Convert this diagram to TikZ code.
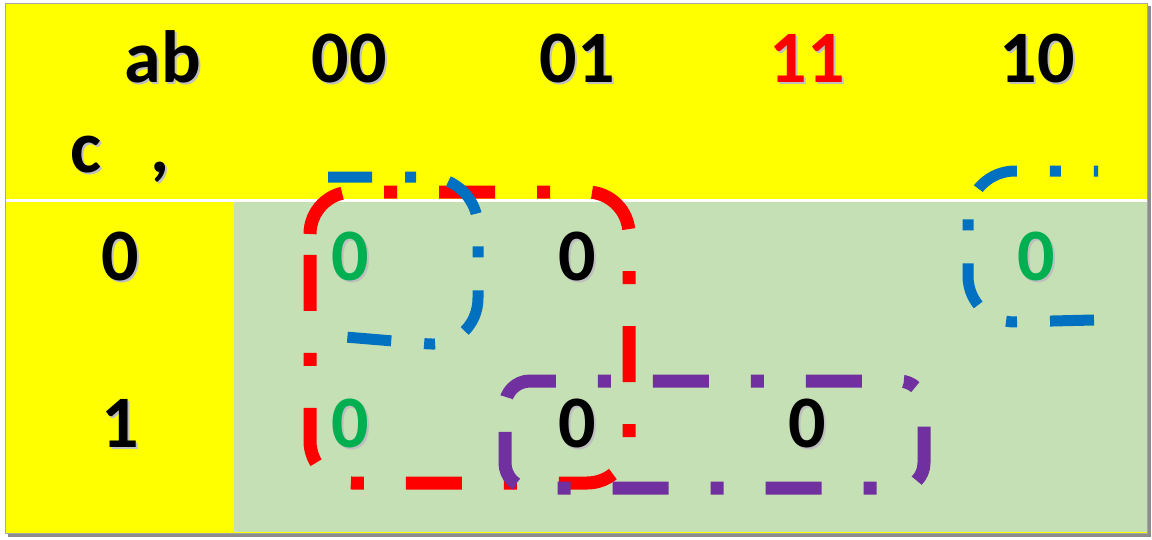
\documentclass[tikz,border=0pt]{standalone}
\usepackage{fontspec}
\setmainfont{Carlito}
\definecolor{kyellow}{HTML}{FFFF00}
\definecolor{kgreen}{HTML}{C5E0B4}
\definecolor{kred}{HTML}{FF0000}
\definecolor{kblue}{HTML}{0070C0}
\definecolor{kpurple}{HTML}{7030A0}
\definecolor{ktxtgreen}{HTML}{00B050}
\newcommand\shtext[1]{\makebox[0pt][l]{\hspace{2pt}\raisebox{-2pt}{\color{black!25}#1}}#1}
\begin{document}
\begin{tikzpicture}[x=1pt,y=-1pt,
  lbl/.style={font=\bfseries\fontsize{74}{74}\selectfont, anchor=base, inner sep=0pt},
  loopred/.style={draw=kred, line width=13pt, dash pattern=on 56pt off 42pt on 13pt off 42pt},
  loopblue/.style={draw=kblue, line width=11pt, dash pattern=on 44pt off 33pt on 11pt off 33pt},
  looppurple/.style={draw=kpurple, line width=13pt, dash pattern=on 56pt off 42pt on 13pt off 42pt}]
\useasboundingbox (0,0) rectangle (1152,539);
\fill[white] (0,0) rectangle (1152,539);
\fill[black!45] (8,6) rectangle (1151,537);
\fill[kyellow] (5,3) rectangle (1147,533);
\draw[black!35, line width=1pt] (5,3) rectangle (1147,533);
\fill[kgreen] (234,202) rectangle (1147,532);
\draw[white, line width=3pt] (6,200) -- (1147,200);
% header
\node[lbl] (ab) at (163,82) {\shtext{ab}};
\node[lbl] (h00) at (349,82) {\shtext{00}};
\node[lbl] (h01) at (577,82) {\shtext{01}};
\node[lbl, text=kred] (h11) at (807,82) {\shtext{11}};
\node[lbl] (h10) at (1037,82) {\shtext{10}};
\node[lbl] (c) at (86,172) {\shtext{c}};
\node[lbl] (comma) at (160,172) {\shtext{,}};
% row labels
\node[lbl] (r0) at (120,280) {\shtext{0}};
\node[lbl] (r1) at (120,447) {\shtext{1}};
% cells
\node[lbl, text=ktxtgreen] (m000) at (350,280) {\shtext{0}};
\node[lbl] (m010) at (577,280) {\shtext{0}};
\node[lbl, text=ktxtgreen] (m100) at (1036,280) {\shtext{0}};
\node[lbl, text=ktxtgreen] (m001) at (350,447) {\shtext{0}};
\node[lbl] (m011) at (577,447) {\shtext{0}};
\node[lbl] (m111) at (807,447) {\shtext{0}};
% loops
\draw[loopred, rounded corners=42pt] (310,234) -- (310,192) -- (629,192) -- (629,483) -- (310,483) -- (310,233);
\draw[loopblue, rounded corners=50pt] (328,177) -- (478,177) -- (478,348) -- (345,337);
\draw[loopblue, rounded corners=47pt] (1094,320) -- (968,323) -- (968,171) -- (1098,171);
\draw[looppurple, rounded corners=25pt, dash phase=144pt] (505,406) -- (505,381) -- (924,381) -- (924,488) -- (505,488) -- (505,405);
\end{tikzpicture}
\end{document}
